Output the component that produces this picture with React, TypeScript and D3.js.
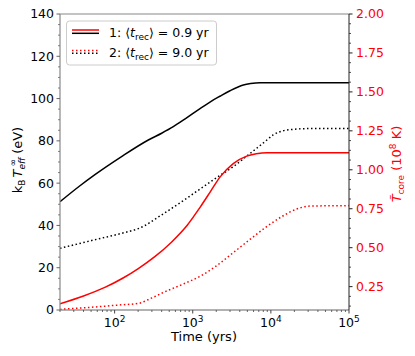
import React from "react";
import * as d3 from "d3";

// time axis (yrs)
const timeDomain = [20, 1e5];
const xTicks = [1e2, 1e3, 1e4, 1e5];

// left axis: k_B T_eff (eV), black curves
const leftTicks = [0, 20, 40, 60, 80, 100, 120, 140];
const tEffSolidT = [20, 35, 56, 120, 270, 400, 564, 800, 1240, 1700, 2230, 3000, 4440, 5500, 7260, 100000];
const tEffSolidV = [51.2, 58.4, 64.0, 72.3, 80.4, 83.6, 86.7, 90.4, 95.3, 98.6, 101.1, 103.7, 106.4, 107.1, 107.5, 107.5];
const tEffDotT = [20, 60, 140, 205, 400, 796, 1240, 2000, 3300, 5000, 6580, 8500, 10700, 14400, 20000, 30000, 100000];
const tEffDotV = [29.2, 33.5, 36.8, 38.6, 45.0, 52.3, 57.2, 62.5, 67.8, 73.0, 76.5, 79.8, 82.8, 84.8, 85.5, 85.8, 85.8];

// right axis: T_core (1e8 K), red curves
const rightTicks = [0.25, 0.5, 0.75, 1.0, 1.25, 1.5, 1.75, 2.0];
const tCoreSolidT = [20, 40, 75, 130, 201, 330, 538, 850, 1240, 1700, 2230, 3300, 4900, 6500, 8850, 100000];
const tCoreSolidV = [0.14, 0.19, 0.245, 0.307, 0.366, 0.444, 0.537, 0.644, 0.759, 0.863, 0.953, 1.04, 1.088, 1.103, 1.11, 1.11];
const tCoreDotT = [20, 62, 120, 205, 300, 441, 800, 1240, 2030, 3300, 5400, 8830, 14400, 21400, 31700, 100000];
const tCoreDotV = [0.104, 0.121, 0.133, 0.143, 0.178, 0.217, 0.272, 0.316, 0.385, 0.468, 0.553, 0.635, 0.705, 0.748, 0.767, 0.77];

const legendLabels = ["0.9", "9.0"];

const W = 415;
const H = 356;
const m = { left: 60, right: 349, top: 14, bottom: 310 };
const font = "DejaVu Sans";

export default function App() {
  const x = d3.scaleLog().domain(timeDomain).range([m.left, m.right]);
  const yL = d3.scaleLinear().domain([0, 140]).range([m.bottom, m.top]);
  const yR = d3.scaleLinear().domain([0.1, 2.0]).range([m.bottom, m.top]);

  const lineL = d3
    .line<number[]>()
    .x((d) => x(d[0]))
    .y((d) => yL(d[1]))
    .curve(d3.curveMonotoneX);
  const lineR = d3
    .line<number[]>()
    .x((d) => x(d[0]))
    .y((d) => yR(d[1]))
    .curve(d3.curveMonotoneX);

  const zip = (a: number[], b: number[]) => a.map((t, i) => [t, b[i]]);

  // minor ticks
  const xMinor: number[] = [];
  for (let e = 1; e < 5; e++) {
    for (let k = 2; k < 10; k++) {
      const v = k * Math.pow(10, e);
      if (v >= timeDomain[0] && v <= timeDomain[1]) xMinor.push(v);
    }
  }
  const leftMinor = d3.range(0, 141, 5).filter((v) => v % 20 !== 0);
  const rightMinor = d3.range(0.125, 2.0, 0.0625).filter((v) => Math.abs((v / 0.25) - Math.round(v / 0.25)) > 0.01);

  const dot = "1.5 2.5";

  return (
    <svg width={W} height={H} style={{ position: "absolute", left: 0, top: 0 }} fontFamily={font}>
      <rect width={W} height={H} fill="#fff" />
      <defs>
        <clipPath id="plot">
          <rect x={m.left} y={m.top} width={m.right - m.left} height={m.bottom - m.top} />
        </clipPath>
      </defs>

      <g clipPath="url(#plot)" fill="none" strokeWidth={1.5}>
        <path d={lineL(zip(tEffSolidT, tEffSolidV)) || ""} stroke="#000" />
        <path d={lineL(zip(tEffDotT, tEffDotV)) || ""} stroke="#000" strokeDasharray={dot} />
        <path d={lineR(zip(tCoreSolidT, tCoreSolidV)) || ""} stroke="#f00" />
        <path d={lineR(zip(tCoreDotT, tCoreDotV)) || ""} stroke="#f00" strokeDasharray={dot} />
      </g>

      {/* spines */}
      <line x1={m.left} x2={m.right} y1={m.top} y2={m.top} stroke="#888" strokeWidth={1.2} />
      <line x1={m.left} x2={m.right} y1={m.bottom} y2={m.bottom} stroke="#666" strokeWidth={1.2} />
      <line x1={m.left} x2={m.left} y1={m.top} y2={m.bottom} stroke="#888" strokeWidth={1.2} />
      <line x1={m.right} x2={m.right} y1={m.top} y2={m.bottom} stroke="#222" strokeWidth={1} />

      {/* left axis */}
      {leftTicks.map((v) => (
        <g key={"l" + v}>
          <line x1={m.left - 3.5} x2={m.left} y1={yL(v)} y2={yL(v)} stroke="#666" strokeWidth={1} />
          <text x={m.left - 6} y={yL(v)} dy="0.35em" textAnchor="end" fontSize={12.5} fill="#000">
            {v}
          </text>
        </g>
      ))}
      {leftMinor.map((v) => (
        <line key={"lm" + v} x1={m.left - 2} x2={m.left} y1={yL(v)} y2={yL(v)} stroke="#666" strokeWidth={0.8} />
      ))}

      {/* right axis */}
      {rightTicks.map((v) => (
        <g key={"r" + v}>
          <line x1={m.right} x2={m.right + 3.5} y1={yR(v)} y2={yR(v)} stroke="#222" strokeWidth={1} />
          <text x={m.right + 7} y={yR(v)} dy="0.35em" fontSize={12.5} fill="#f00">
            {v.toFixed(2)}
          </text>
        </g>
      ))}
      {rightMinor.map((v) => (
        <line key={"rm" + v} x1={m.right} x2={m.right + 2} y1={yR(v)} y2={yR(v)} stroke="#222" strokeWidth={0.8} />
      ))}

      {/* bottom axis */}
      {xTicks.map((v) => (
        <g key={"x" + v}>
          <line x1={x(v)} x2={x(v)} y1={m.bottom} y2={m.bottom + 3.5} stroke="#444" strokeWidth={1} />
          <text x={x(v)} y={327} textAnchor="middle" fontSize={12.5} fill="#000">
            10
            <tspan fontSize={9} dy={-5.5}>
              {Math.round(Math.log10(v))}
            </tspan>
          </text>
        </g>
      ))}
      {xMinor.map((v) => (
        <line key={"xm" + v} x1={x(v)} x2={x(v)} y1={m.bottom} y2={m.bottom + 2} stroke="#444" strokeWidth={0.8} />
      ))}

      {/* axis labels */}
      <text x={204} y={341} textAnchor="middle" fontSize={13} fill="#000">
        Time (yrs)
      </text>
      <text transform="translate(22,160) rotate(-90)" textAnchor="middle" fontSize={13} fill="#000">
        k<tspan fontSize={9} dy={3}>B</tspan>
        <tspan fontStyle="italic" dy={-3} dx={2}>T</tspan>
        <tspan fontStyle="italic" fontSize={9} dy={3}>eff</tspan>
        <tspan fontSize={9} dx={-9} dy={-9}>∞</tspan>
        <tspan dx={1} dy={6}> (eV)</tspan>
      </text>
      <text transform="translate(401,164) rotate(-90)" textAnchor="middle" fontSize={13} fill="#f00">
        <tspan fontStyle="italic">T̃</tspan>
        <tspan fontSize={9} dy={3}>core</tspan>
        <tspan dy={-3}> (10</tspan>
        <tspan fontSize={9} dy={-5}>8</tspan>
        <tspan dy={5}> K)</tspan>
      </text>

      {/* legend */}
      <rect x={66.5} y={21} width={150} height={44} rx={3} fill="#fff" fillOpacity={0.8} stroke="#ccc" strokeWidth={1} />
      <line x1={72} x2={99} y1={30} y2={30} stroke="#f00" strokeWidth={1.5} />
      <line x1={72} x2={99} y1={33.3} y2={33.3} stroke="#000" strokeWidth={1.5} />
      <line x1={72} x2={99} y1={50.5} y2={50.5} stroke="#f00" strokeWidth={1.5} strokeDasharray={dot} />
      <line x1={72} x2={99} y1={53.3} y2={53.3} stroke="#000" strokeWidth={1.5} strokeDasharray={dot} />
      {legendLabels.map((lab, i) => (
        <text key={lab} x={109} y={37 + i * 20} fontSize={12.5} fill="#000">
          {i + 1}: ⟨<tspan fontStyle="italic">t</tspan>
          <tspan fontSize={9} dy={3}>rec</tspan>
          <tspan dy={-3}>⟩ = {lab} yr</tspan>
        </text>
      ))}
    </svg>
  );
}
